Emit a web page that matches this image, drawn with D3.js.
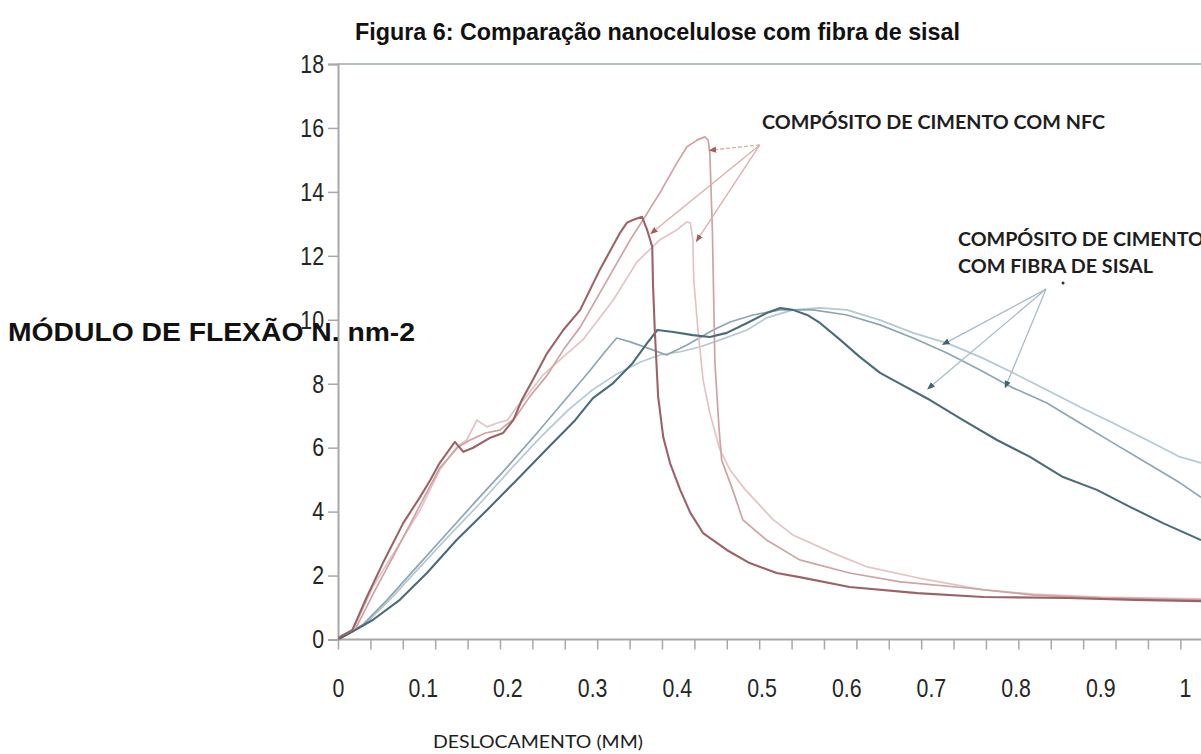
<!DOCTYPE html>
<html>
<head>
<meta charset="utf-8">
<script src="https://cdn.jsdelivr.net/npm/d3@7"></script>
<style>
  body { margin: 0; background: #fff; }
  svg { display: block; }
</style>
</head>
<body>
<svg id="chart" width="1201" height="754"></svg>
<script>
// Axis labels and ticks
const xLabelValues = [0, 0.1, 0.2, 0.3, 0.4, 0.5, 0.6, 0.7, 0.8, 0.9, 1];
const yTickValues = [0, 2, 4, 6, 8, 10, 12, 14, 16, 18];
const xMinorTickStep = 0.03825;

// Flexural curves, [displacement mm, modulus]
const nfcDark = [[0,0],[0.002,0.08],[0.017,0.30],[0.034,1.33],[0.053,2.39],[0.077,3.64],[0.097,4.46],[0.109,4.99],[0.120,5.52],[0.138,6.18],[0.148,5.87],[0.159,5.99],[0.179,6.30],[0.195,6.46],[0.207,6.86],[0.217,7.49],[0.230,8.12],[0.247,8.96],[0.266,9.68],[0.286,10.31],[0.309,11.56],[0.333,12.72],[0.341,13.03],[0.348,13.12],[0.359,13.22],[0.365,12.81],[0.371,12.28],[0.372,11.03],[0.374,9.68],[0.378,7.59],[0.384,6.33],[0.392,5.52],[0.404,4.68],[0.416,3.96],[0.431,3.33],[0.459,2.80],[0.486,2.39],[0.518,2.08],[0.545,1.95],[0.604,1.64],[0.684,1.45],[0.762,1.33],[0.861,1.30],[0.941,1.24],[1.019,1.20]];
const nfcMid = [[0,0],[0.020,0.30],[0.044,1.55],[0.071,2.89],[0.097,4.21],[0.120,5.36],[0.142,6.02],[0.156,6.24],[0.174,6.46],[0.191,6.55],[0.209,6.93],[0.227,7.62],[0.247,8.27],[0.266,9.06],[0.286,9.77],[0.318,11.25],[0.345,12.50],[0.360,13.12],[0.380,13.97],[0.400,14.90],[0.412,15.41],[0.424,15.62],[0.433,15.72],[0.437,15.62],[0.439,15.22],[0.442,12.81],[0.445,8.65],[0.450,6.55],[0.453,5.61],[0.466,4.68],[0.478,3.74],[0.506,3.11],[0.545,2.49],[0.604,2.08],[0.664,1.80],[0.743,1.61],[0.821,1.39],[0.900,1.30],[1.019,1.24]];
const nfcLight = [[0,0],[0.018,0.30],[0.041,1.64],[0.070,2.89],[0.097,4.05],[0.120,5.30],[0.140,6.02],[0.152,6.24],[0.164,6.86],[0.176,6.65],[0.188,6.77],[0.200,6.86],[0.211,7.27],[0.221,7.55],[0.242,8.27],[0.266,8.84],[0.289,9.37],[0.325,10.62],[0.353,11.81],[0.380,12.50],[0.400,12.81],[0.412,13.06],[0.416,13.03],[0.419,12.50],[0.420,11.25],[0.425,9.68],[0.431,8.12],[0.439,7.08],[0.451,5.93],[0.463,5.30],[0.481,4.68],[0.514,3.74],[0.537,3.27],[0.584,2.71],[0.625,2.27],[0.684,1.93],[0.762,1.55],[0.821,1.42],[0.900,1.33],[1.019,1.27]];
const sisalDark = [[0,0],[0.014,0.20],[0.041,0.61],[0.073,1.24],[0.105,2.08],[0.140,3.11],[0.176,4.05],[0.211,4.99],[0.250,6.05],[0.280,6.86],[0.301,7.55],[0.325,8.02],[0.348,8.65],[0.365,9.27],[0.377,9.68],[0.396,9.62],[0.419,9.52],[0.439,9.46],[0.459,9.59],[0.483,9.90],[0.506,10.21],[0.522,10.37],[0.537,10.31],[0.554,10.15],[0.569,9.90],[0.593,9.37],[0.616,8.84],[0.640,8.34],[0.660,8.05],[0.699,7.49],[0.738,6.86],[0.778,6.24],[0.817,5.71],[0.856,5.08],[0.896,4.68],[0.935,4.15],[0.974,3.64],[1.019,3.11]];
const sisalMid = [[0,0],[0.030,0.48],[0.058,1.24],[0.093,2.27],[0.129,3.33],[0.164,4.36],[0.200,5.40],[0.235,6.46],[0.268,7.49],[0.298,8.43],[0.315,8.99],[0.329,9.43],[0.345,9.31],[0.365,9.12],[0.388,8.90],[0.412,9.21],[0.443,9.68],[0.463,9.93],[0.490,10.15],[0.522,10.31],[0.561,10.31],[0.601,10.15],[0.640,9.84],[0.679,9.43],[0.719,8.96],[0.758,8.43],[0.797,7.87],[0.837,7.40],[0.876,6.77],[0.915,6.15],[0.955,5.52],[0.994,4.90],[1.019,4.45]];
const sisalLight = [[0,0],[0.032,0.48],[0.061,1.24],[0.097,2.27],[0.132,3.27],[0.168,4.27],[0.203,5.30],[0.238,6.30],[0.272,7.18],[0.300,7.80],[0.327,8.27],[0.357,8.68],[0.380,8.90],[0.404,9.00],[0.427,9.15],[0.451,9.37],[0.483,9.68],[0.506,10.06],[0.537,10.31],[0.569,10.37],[0.601,10.31],[0.640,9.99],[0.679,9.59],[0.719,9.27],[0.758,8.84],[0.797,8.34],[0.837,7.80],[0.876,7.27],[0.915,6.77],[0.955,6.24],[0.994,5.71],[1.019,5.52]];

// Callouts: label anchor, arrow origin and arrow tips
const nfcLabel = { text: "COMPÓSITO DE CIMENTO COM NFC", at: [0.5006, 15.97] };
const nfcOrigin = [0.498, 15.47];
const nfcTips = [[0.442, 15.31], [0.372, 12.75], [0.425, 12.53]];
const sisalLabel = { lines: ["COMPÓSITO DE CIMENTO", "COM FIBRA DE SISAL"], at: [0.732, 12.31], second: 11.46 };
const sisalOrigin = [0.836, 10.96];
const sisalTips = [[0.717, 9.27], [0.699, 7.90], [0.789, 7.96]];
const sisalDot = [0.856, 11.15];

const svg = d3.select("#chart");
const W = 1201, H = 754;
const plot = { left: 338, top: 64, bottom: 639.5, right: W };

const x = d3.scaleLinear().domain([0, 1]).range([plot.left, 1185]);
const y = d3.scaleLinear().domain([0, 18]).range([plot.bottom, plot.top]);

svg.append("rect").attr("width", W).attr("height", H).attr("fill", "#fff");

const defs = svg.append("defs");
defs.append("clipPath").attr("id", "plotClip")
  .append("rect")
  .attr("x", plot.left).attr("y", plot.top)
  .attr("width", plot.right - plot.left).attr("height", plot.bottom - plot.top);

function arrowMarker(id, color) {
  defs.append("marker")
    .attr("id", id)
    .attr("viewBox", "0 0 10 10")
    .attr("refX", 5).attr("refY", 5)
    .attr("markerWidth", 6).attr("markerHeight", 6)
    .attr("orient", "auto-start-reverse")
    .append("path").attr("d", "M0,1 L10,5 L0,9 Z").attr("fill", color);
}
arrowMarker("arrowNfc", "#a4605a");
arrowMarker("arrowSisal", "#3f6470");

// Narrow tick numerals: render at full height, then condense horizontally
function condense(sel, factor) {
  sel.each(function () {
    const w = this.getComputedTextLength();
    d3.select(this).attr("textLength", w * factor).attr("lengthAdjust", "spacingAndGlyphs");
  });
}
const tickFont = "'Liberation Sans', Arial, sans-serif";

// Top frame line
svg.append("line")
  .attr("x1", plot.left).attr("x2", plot.right)
  .attr("y1", y(18)).attr("y2", y(18))
  .attr("stroke", "#b5bfc6").attr("stroke-width", 2);

// Y axis
const yAxis = svg.append("g")
  .attr("transform", `translate(${plot.left},0)`)
  .call(d3.axisLeft(y).tickValues(yTickValues).tickSize(10).tickPadding(4).tickFormat(d3.format("d")));
yAxis.select(".domain").attr("stroke", "#a8a8a8").attr("stroke-width", 2);
yAxis.selectAll(".tick line").attr("stroke", "#a8a8a8").attr("stroke-width", 1.5);
yAxis.selectAll(".tick text")
  .attr("fill", "#262626")
  .style("font-family", tickFont)
  .style("font-size", "26px")
  .call(condense, 0.82);

// X axis: minor tick marks along the baseline
const xMinorTicks = d3.range(0, 1.02, xMinorTickStep);
const xTicksAxis = svg.append("g")
  .attr("transform", `translate(0,${plot.bottom})`)
  .call(d3.axisBottom(x).tickValues(xMinorTicks).tickSize(10).tickFormat(""));
xTicksAxis.select(".domain").attr("stroke", "#a8a8a8").attr("stroke-width", 2)
  .attr("d", `M${plot.left},0H${plot.right}`);
xTicksAxis.selectAll(".tick line").attr("stroke", "#a8a8a8").attr("stroke-width", 1.5);

// X axis labels
const xLabelAxis = svg.append("g")
  .attr("transform", `translate(0,${plot.bottom})`)
  .call(d3.axisBottom(x).tickValues(xLabelValues).tickSize(0).tickPadding(39).tickFormat(d => String(d)));
xLabelAxis.select(".domain").remove();
xLabelAxis.selectAll(".tick text")
  .attr("fill", "#262626")
  .style("font-family", tickFont)
  .style("font-size", "26px")
  .call(condense, 0.82);

// Curves
const line = d3.line().x(d => x(d[0])).y(d => y(d[1]));
const series = [
  { data: sisalLight, color: "#b4c9d3", width: 1.7 },
  { data: sisalMid, color: "#8ea6b2", width: 1.7 },
  { data: nfcLight, color: "#e4c3c4", width: 1.7 },
  { data: nfcMid, color: "#cfa2a3", width: 1.7 },
  { data: sisalDark, color: "#4c6b78", width: 2.1 },
  { data: nfcDark, color: "#9c6367", width: 2.1 }
];
const curves = svg.append("g").attr("clip-path", "url(#plotClip)");
curves.selectAll("path")
  .data(series)
  .join("path")
  .attr("d", d => line(d.data))
  .attr("fill", "none")
  .attr("stroke", d => d.color)
  .attr("stroke-width", d => d.width)
  .attr("stroke-linejoin", "round");

// Callout arrows
const callouts = svg.append("g");
nfcTips.forEach((t, i) => {
  callouts.append("line")
    .attr("x1", x(nfcOrigin[0])).attr("y1", y(nfcOrigin[1]))
    .attr("x2", x(t[0])).attr("y2", y(t[1]))
    .attr("stroke", "#dcaea9").attr("stroke-width", 1.3)
    .attr("stroke-dasharray", i === 0 ? "4,2" : null)
    .attr("marker-end", "url(#arrowNfc)");
});
sisalTips.forEach(t => {
  callouts.append("line")
    .attr("x1", x(sisalOrigin[0])).attr("y1", y(sisalOrigin[1]))
    .attr("x2", x(t[0])).attr("y2", y(t[1]))
    .attr("stroke", "#a9bcc6").attr("stroke-width", 1.3)
    .attr("marker-end", "url(#arrowSisal)");
});
callouts.append("circle")
  .attr("cx", x(sisalDot[0])).attr("cy", y(sisalDot[1]))
  .attr("r", 1.5).attr("fill", "#333");

// Callout labels
const calloutFont = "Lato, 'Open Sans', sans-serif";
svg.append("text")
  .attr("x", x(nfcLabel.at[0])).attr("y", y(nfcLabel.at[1]))
  .attr("textLength", 343).attr("lengthAdjust", "spacingAndGlyphs")
  .style("font-family", calloutFont).style("font-weight", 700).style("font-size", "18px")
  .attr("fill", "#1e1e1e")
  .text(nfcLabel.text);
svg.append("text")
  .attr("x", x(sisalLabel.at[0])).attr("y", y(sisalLabel.at[1]))
  .attr("textLength", 246).attr("lengthAdjust", "spacingAndGlyphs")
  .style("font-family", calloutFont).style("font-weight", 700).style("font-size", "18px")
  .attr("fill", "#1e1e1e")
  .text(sisalLabel.lines[0]);
svg.append("text")
  .attr("x", x(sisalLabel.at[0])).attr("y", y(sisalLabel.second))
  .attr("textLength", 195).attr("lengthAdjust", "spacingAndGlyphs")
  .style("font-family", calloutFont).style("font-weight", 700).style("font-size", "18px")
  .attr("fill", "#1e1e1e")
  .text(sisalLabel.lines[1]);

// Titles
svg.append("text")
  .attr("x", 355).attr("y", 40)
  .attr("textLength", 605).attr("lengthAdjust", "spacingAndGlyphs")
  .style("font-family", "'Liberation Sans', Arial, sans-serif")
  .style("font-weight", 700).style("font-size", "24px")
  .attr("fill", "#111")
  .text("Figura 6: Comparação nanocelulose com fibra de sisal");

svg.append("text")
  .attr("x", 8).attr("y", 341)
  .attr("textLength", 407).attr("lengthAdjust", "spacingAndGlyphs")
  .style("font-family", "'Liberation Sans', Arial, sans-serif")
  .style("font-weight", 700).style("font-size", "25px")
  .attr("fill", "#111")
  .text("MÓDULO DE FLEXÃO N. nm-2");

svg.append("text")
  .attr("x", 433).attr("y", 748)
  .attr("textLength", 210).attr("lengthAdjust", "spacingAndGlyphs")
  .style("font-family", calloutFont).style("font-weight", 400).style("font-size", "18px")
  .attr("fill", "#1e1e1e")
  .text("DESLOCAMENTO (MM)");
</script>
</body>
</html>
